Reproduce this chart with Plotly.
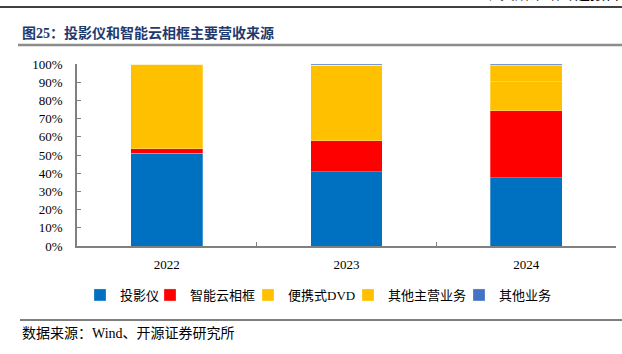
import plotly.graph_objects as go

years = ["2022", "2023", "2024"]
series_names = ["投影仪", "智能云相框", "便携式DVD", "其他主营业务", "其他业务"]
projector = [0.509, 0.408, 0.375]
photo_frame = [0.026, 0.171, 0.367]
dvd = [0.465, 0.415, 0.161]
other_main = [0.0, 0.0, 0.091]
other = [0.0, 0.006, 0.006]
colors = ["#0070C0", "#FF0000", "#FFC000", "#FFC000", "#4472C4"]
yticks = [i / 10 for i in range(11)]

W, H = 622, 354
L, R, T, B = 77, 616, 64, 246
pw, ph = R - L, B - T

def px(x):
    return (x - L) / pw

def py(y):
    return (B - y) / ph

font_main = "Liberation Serif, Noto Sans CJK SC, serif"
legend_ids = ["legend", "legend2", "legend3", "legend4", "legend5"]
legend_x = [92, 162, 260, 360, 471]

fig = go.Figure()
for name, vals, c, lid in zip(series_names, [projector, photo_frame, dvd, other_main, other], colors, legend_ids):
    fig.add_bar(x=years, y=vals, name=name, marker_color=c,
                marker_line=dict(width=0.6, color="rgba(255,255,255,0.45)"),
                width=0.4, legend=lid)

legend_layout = {}
for lid, lx in zip(legend_ids, legend_x):
    legend_layout[lid] = dict(orientation="h", x=px(lx - 12), xanchor="left",
                              y=py(295), yanchor="middle", bgcolor="rgba(0,0,0,0)",
                              font=dict(size=13, family=font_main), itemwidth=30)

fig.update_layout(
    barmode="stack",
    width=W, height=H,
    margin=dict(l=L, r=W - R, t=T, b=H - B, pad=0),
    paper_bgcolor="white", plot_bgcolor="white",
    font=dict(family=font_main, size=13, color="#000000"),
    showlegend=True,
    xaxis=dict(type="category", showline=True, linecolor="#808080", linewidth=1.5,
               ticks="inside", ticklen=4, tickcolor="#808080", tickson="boundaries",
               showgrid=False, tickfont=dict(size=13, family=font_main), ticklabelstandoff=6),
    yaxis=dict(range=[0, 1], tickvals=yticks, tickformat=".0%", showline=True,
               linecolor="#808080", linewidth=1.5, ticks="inside", ticklen=4,
               tickcolor="#808080", showgrid=False, zeroline=False,
               tickfont=dict(size=13, family=font_main), ticklabelstandoff=10),
    **legend_layout,
)

shapes = [
    dict(type="line", xref="paper", yref="paper", x0=px(0), x1=px(622), y0=py(7), y1=py(7),
         line=dict(color="#000000", width=1.5)),
    dict(type="line", xref="paper", yref="paper", x0=px(18), x1=px(622), y0=py(45), y1=py(45),
         line=dict(color="#8C8C8C", width=2.5)),
    dict(type="line", xref="paper", yref="paper", x0=px(20), x1=px(622), y0=py(320), y1=py(320),
         line=dict(color="#000000", width=1)),
]
fig.update_layout(shapes=shapes)

annotations = [
    dict(text="<b>图25：投影仪和智能云相框主要营收来源</b>", xref="paper", yref="paper",
         x=px(20), y=py(33), xanchor="left", yanchor="middle", showarrow=False,
         font=dict(size=14, color="#1F3A6E", family=font_main)),
    dict(text="数据来源：Wind、开源证券研究所", xref="paper", yref="paper",
         x=px(20), y=py(333), xanchor="left", yanchor="middle", showarrow=False,
         font=dict(size=14, color="#000000", family=font_main)),
    dict(text="北交所策略专题报告", xref="paper", yref="paper",
         x=px(622), y=py(4), xanchor="right", yanchor="bottom", showarrow=False,
         font=dict(size=15, color="#000000", family=font_main)),
]
fig.update_layout(annotations=annotations)

fig.write_html("out.html")
